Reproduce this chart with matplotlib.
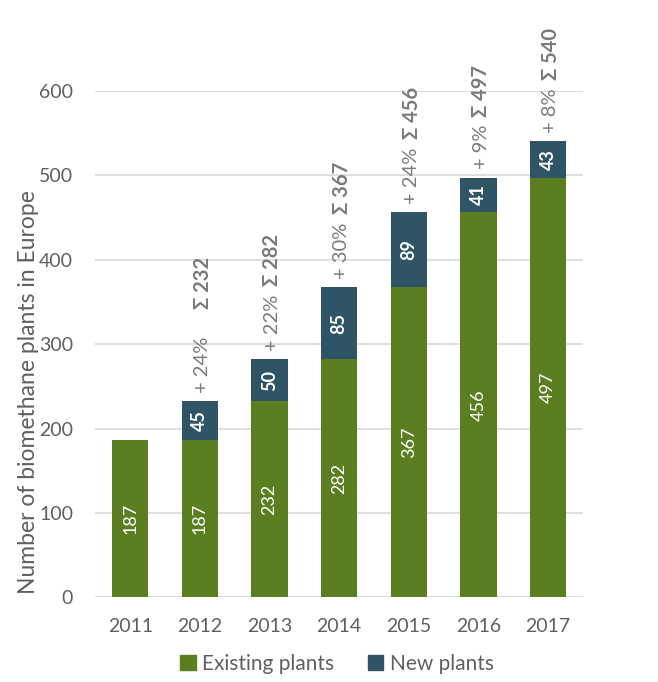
import matplotlib
matplotlib.use('Agg')
import matplotlib.pyplot as plt
from matplotlib.patches import Patch

plt.rcParams['font.family'] = ['Lato', 'DejaVu Sans']

years = ['2011', '2012', '2013', '2014', '2015', '2016', '2017']
existing = [187, 187, 232, 282, 367, 456, 497]
new = [0, 45, 50, 85, 89, 41, 43]
growth = ['', '+ 24%', '+ 22%', '+ 30%', '+ 24%', '+ 9%', '+ 8%']
totals = [187, 232, 282, 367, 456, 497, 540]

green = '#5b7f20'
teal = '#2e5466'
grey = '#7a7a7a'
label_grey = '#5f5f5f'

fig = plt.figure(figsize=(6.58, 6.82), dpi=100)
ax = fig.add_axes([0.145, 0.124, 0.741, 0.743])

x = list(range(len(years)))
ax.bar(x, existing, width=0.52, color=green, zorder=3)
ax.bar(x, new, width=0.52, bottom=existing, color=teal, zorder=3)

ax.set_xlim(-0.5, len(years) - 0.5)
ax.set_ylim(0, 600)
ax.set_yticks(range(0, 601, 100))
ax.set_xticks(x)
ax.set_xticklabels(years)
ax.tick_params(axis='both', length=0, labelsize=14, colors=label_grey)
ax.tick_params(axis='y', pad=16)
ax.tick_params(axis='x', pad=15)
ax.grid(axis='y', color='#d9d9d9', linewidth=1.2, zorder=0)
for s in ax.spines.values():
    s.set_visible(False)
ax.set_ylabel('Number of biomethane plants in Europe', fontsize=16.5, color=label_grey)
ax.yaxis.set_label_coords(-0.115, 0.405)

# 막대 안 숫자
for i in x:
    ax.text(i, existing[i] / 2, str(existing[i]), rotation=90, ha='center', va='center',
            color='white', fontsize=13, zorder=4)
    if new[i]:
        ax.text(i, existing[i] + new[i] / 2, str(new[i]), rotation=90, ha='center', va='center',
                color='white', fontsize=13, fontweight='bold', zorder=4)

# 막대 위 증가율 + 합계
gaps = [0, 20, 6, 6, 6, 6, 6]
for i in x:
    if not growth[i]:
        continue
    t1 = ax.annotate(growth[i], xy=(i + 0.04, totals[i]), xytext=(0, 6), textcoords='offset points',
                     rotation=90, ha='center', va='bottom', color=grey, fontsize=14.5,
                     annotation_clip=False)
    ax.annotate('Σ ' + str(totals[i]), xy=(0.5, 1), xycoords=t1, xytext=(0, gaps[i]),
                textcoords='offset points', rotation=90, ha='center', va='bottom',
                color=grey, fontsize=14.5, fontweight='bold', annotation_clip=False)

handles = [Patch(color=green, label='Existing plants'), Patch(color=teal, label='New plants')]
fig.legend(handles=handles, loc='center', bbox_to_anchor=(0.512, 0.027), ncol=2, frameon=False,
           fontsize=15, handlelength=0.75, handleheight=0.75, handletextpad=0.3, columnspacing=1.6,
           labelcolor=label_grey)

plt.savefig('out.png', dpi=100)
